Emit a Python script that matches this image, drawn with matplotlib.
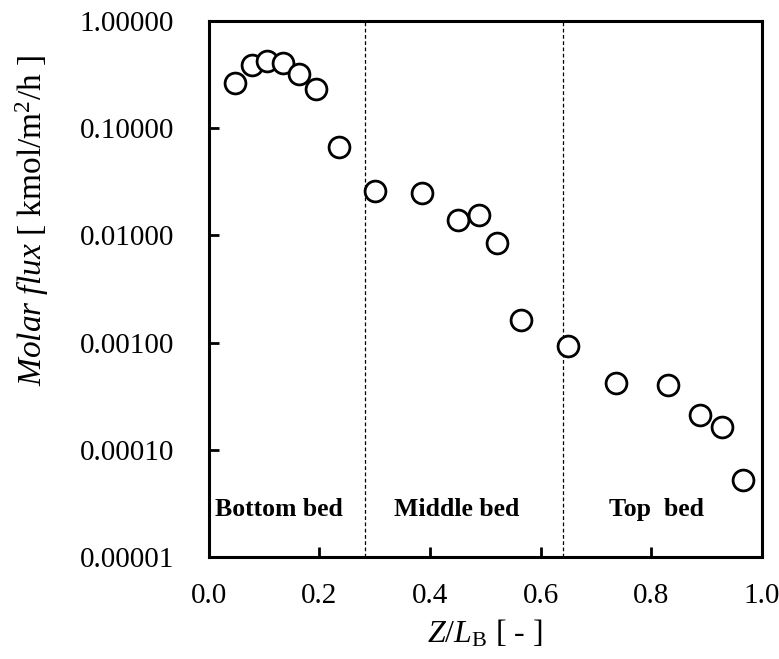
import numpy as np
import matplotlib
matplotlib.use("Agg")
import matplotlib.pyplot as plt
from matplotlib.ticker import FixedLocator, NullLocator, FuncFormatter

#-------------------------------------------------------------------------------
# data
#-------------------------------------------------------------------------------
z_lb = [0.048, 0.079, 0.105, 0.134, 0.163, 0.193, 0.235, 0.301, 0.386, 0.450,
        0.488, 0.521, 0.564, 0.650, 0.736, 0.831, 0.889, 0.928, 0.966]
flux = [0.262, 0.389, 0.426, 0.408, 0.32, 0.23, 0.0672, 0.0261, 0.0247, 0.0139,
        0.0154, 0.00855, 0.00163, 0.00093, 0.000423, 0.000402, 0.000211,
        0.000164, 0.000052]
bed_limits = [0.283, 0.641]
bed_names = ["Bottom bed", "Middle bed", "Top  bed"]
bed_name_x = [0.127, 0.449, 0.81]
y_ticks = [1e-5, 1e-4, 1e-3, 1e-2, 1e-1, 1]
x_ticks = [0.0, 0.2, 0.4, 0.6, 0.8, 1.0]

plt.rcParams['font.family'] = 'Liberation Serif'
plt.rcParams['mathtext.fontset'] = 'custom'
plt.rcParams['mathtext.rm'] = 'Liberation Serif'
plt.rcParams['mathtext.it'] = 'Liberation Serif:italic'

fig = plt.figure(figsize=(7.79, 6.59), dpi=100)
ax = fig.add_axes([0.268, 0.1548, 0.710, 0.8133])

ax.plot(z_lb, flux, 'o', ms=15, mfc='white', mec='black', mew=2.0, zorder=3)
for xb in bed_limits:
    ax.axvline(xb, color='black', lw=0.9, ls=(0, (3, 2)), zorder=1)
for name, xn in zip(bed_names, bed_name_x):
    ax.text(xn, 2.8e-5, name, ha='center', va='center', fontsize=18.5,
            fontweight='bold')

ax.set_yscale('log')
ax.set_xlim(0, 1)
ax.set_ylim(1e-5, 1)
ax.yaxis.set_major_locator(FixedLocator(y_ticks))
ax.yaxis.set_minor_locator(NullLocator())
ax.yaxis.set_major_formatter(FuncFormatter(lambda v, p: "%.5f" % v))
ax.xaxis.set_major_locator(FixedLocator(x_ticks))
ax.xaxis.set_major_formatter(FuncFormatter(lambda v, p: "%.1f" % v))
ax.tick_params(direction='in', length=7, width=2, labelsize=21)
ax.tick_params(axis='x', pad=19)
ax.tick_params(axis='y', pad=25)

for s in ax.spines.values():
    s.set_linewidth(2.2)

ax.set_xlabel(r"$Z/L_{\rm B}$ [ - ]", fontsize=23, labelpad=6)
fig.text(32 / 779, 1 - 220 / 659, r"$Molar\ flux$ [ kmol/m$^2$/h ]",
         rotation=90, ha='center', va='center', fontsize=24)

fig.savefig("out.png", dpi=100)
